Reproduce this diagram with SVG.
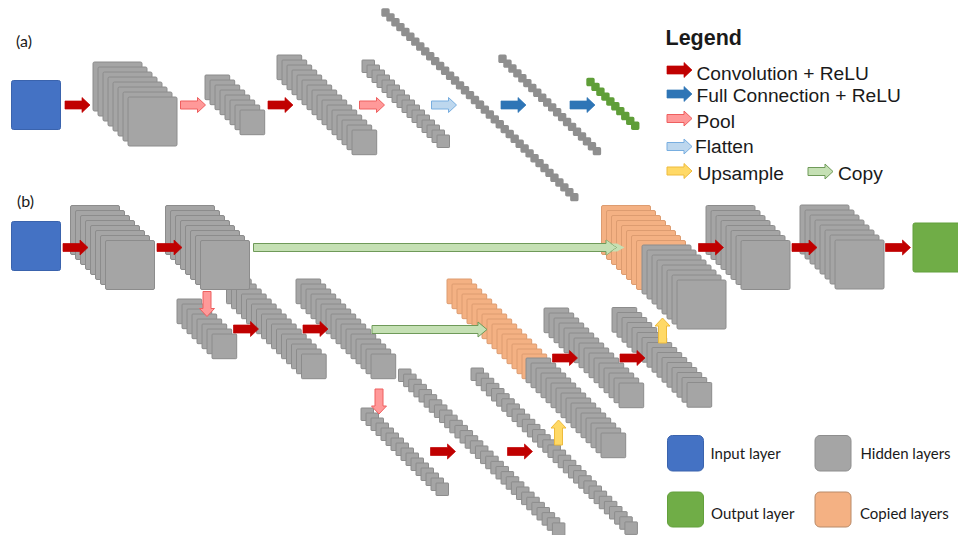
<svg xmlns="http://www.w3.org/2000/svg" width="958" height="535" viewBox="0 0 958 535">
<style>
.gray{fill:#a5a5a5;stroke:#8c8c8c}
.thin{fill:#8f8f8f;stroke:#8f8f8f;stroke-width:2.4}
.orange{fill:#f4b183;stroke:#dd9c70}
.lime{fill:#5f9e38;stroke:#5f9e38;stroke-width:2.4}
.input{fill:#4472c4;stroke:#3a63ad;stroke-width:1}
.output{fill:#70ad47;stroke:#63a03c;stroke-width:1}
.red{fill:#c00000;stroke:#c00000;stroke-width:.7}
.blue{fill:#2e75b6;stroke:#2e75b6;stroke-width:.7}
.pink{fill:#ff9999;stroke:#ee5f5f}
.sky{fill:#bdd7ee;stroke:#78aee0}
.yellow{fill:#ffd966;stroke:#eebb3c}
.copy{fill:#c5e0b4;stroke:#6f9a59}
text{fill:#1a1a1a}
.lg{font-family:"Liberation Sans",Arial,sans-serif;font-size:19.2px}
.cal{font-family:Lato,"Open Sans",sans-serif;font-size:15px}
.tag{font-family:Lato,"Open Sans",sans-serif;font-size:16px}
</style>
<defs>
<rect id="q49" width="49" height="49" rx="1.5"/>
<rect id="q25" width="24.7" height="24.7" rx="1"/>
<rect id="q12" width="12.5" height="12.5" rx=".6"/>
<rect id="q6" width="6" height="6" rx=".5"/>
<path id="arrow" d="M0-4H17V-7.500L25 0 17 7.500V4H0Z"/>
<g id="big8"><use href="#q49"/><use href="#q49" x="5" y="5"/><use href="#q49" x="10" y="10"/><use href="#q49" x="15" y="15"/><use href="#q49" x="20" y="20"/><use href="#q49" x="25" y="25"/><use href="#q49" x="30" y="30"/><use href="#q49" x="35" y="35"/></g>
<g id="mid8"><use href="#q25"/><use href="#q25" x="5" y="5"/><use href="#q25" x="10" y="10"/><use href="#q25" x="15" y="15"/><use href="#q25" x="20" y="20"/><use href="#q25" x="25" y="25"/><use href="#q25" x="30" y="30"/><use href="#q25" x="35" y="35"/></g>
<g id="mid16"><use href="#mid8"/><use href="#mid8" x="40" y="40"/></g>
<g id="sm8"><use href="#q12"/><use href="#q12" x="5" y="5"/><use href="#q12" x="10" y="10"/><use href="#q12" x="15" y="15"/><use href="#q12" x="20" y="20"/><use href="#q12" x="25" y="25"/><use href="#q12" x="30" y="30"/><use href="#q12" x="35" y="35"/></g>
<g id="sm16"><use href="#sm8"/><use href="#sm8" x="40" y="40"/></g>
<g id="sm31"><use href="#q12"/><use href="#q12" x="5.13" y="5.13"/><use href="#q12" x="10.26" y="10.26"/><use href="#q12" x="15.39" y="15.39"/><use href="#q12" x="20.52" y="20.52"/><use href="#q12" x="25.65" y="25.65"/><use href="#q12" x="30.78" y="30.78"/><use href="#q12" x="35.91" y="35.91"/><use href="#q12" x="41.04" y="41.04"/><use href="#q12" x="46.17" y="46.17"/><use href="#q12" x="51.3" y="51.3"/><use href="#q12" x="56.43" y="56.43"/><use href="#q12" x="61.56" y="61.56"/><use href="#q12" x="66.69" y="66.69"/><use href="#q12" x="71.82" y="71.82"/><use href="#q12" x="76.95" y="76.95"/><use href="#q12" x="82.08" y="82.08"/><use href="#q12" x="87.21" y="87.21"/><use href="#q12" x="92.34" y="92.34"/><use href="#q12" x="97.47" y="97.47"/><use href="#q12" x="102.6" y="102.6"/><use href="#q12" x="107.73" y="107.73"/><use href="#q12" x="112.86" y="112.86"/><use href="#q12" x="117.99" y="117.99"/><use href="#q12" x="123.12" y="123.12"/><use href="#q12" x="128.25" y="128.25"/><use href="#q12" x="133.38" y="133.38"/><use href="#q12" x="138.51" y="138.51"/><use href="#q12" x="143.64" y="143.64"/><use href="#q12" x="148.77" y="148.77"/><use href="#q12" x="153.9" y="153.9"/></g>
<g id="t5"><use href="#q6"/><use href="#q6" x="4.97" y="4.86"/><use href="#q6" x="9.94" y="9.72"/><use href="#q6" x="14.91" y="14.58"/><use href="#q6" x="19.88" y="19.44"/></g>
<g id="t10"><use href="#t5"/><use href="#t5" x="24.85" y="24.3"/></g>
<g id="t20"><use href="#t10"/><use href="#t10" x="49.7" y="48.6"/></g>
<g id="t39"><use href="#t20"/><use href="#t20" x="94.4" y="92.3"/></g>
</defs>

<g id="a-input"><rect class="input" x="11.500" y="80.500" width="49" height="49" rx="2"/></g>
<g id="a-conv1" class="gray"><use href="#big8" x="93" y="62"/></g>
<g id="a-pool1" class="gray"><use href="#mid8" x="205" y="75"/></g>
<g id="a-conv2" class="gray"><use href="#mid16" x="277" y="55"/></g>
<g id="a-pool2" class="gray"><use href="#sm16" x="362" y="60"/></g>
<g id="a-flat" class="thin"><use href="#t39" x="382.500" y="9.500"/></g>
<g id="a-fc" class="thin"><use href="#t20" x="499.500" y="55.800"/></g>
<g id="a-output" class="lime"><use href="#t10" x="587.500" y="79"/></g>

<g id="b-input"><rect class="input" x="11.500" y="221.500" width="49" height="49" rx="2"/></g>
<g id="b-conv3" class="gray"><use href="#mid16" x="226.500" y="279"/></g>
<g id="b-conv1" class="gray"><use href="#big8" x="70.500" y="205.500"/></g>
<g id="b-conv2" class="gray"><use href="#big8" x="165.500" y="205.500"/></g>
<g id="b-pool1" class="gray"><use href="#mid8" x="177" y="299"/></g>
<g id="b-conv4" class="gray"><use href="#mid16" x="296" y="279"/></g>
<g id="b-pool2" class="gray"><use href="#sm16" x="361" y="408"/></g>
<g id="b-conv5" class="gray"><use href="#sm31" x="398.500" y="369"/></g>
<g id="b-conv6" class="gray"><use href="#sm31" x="471" y="368"/></g>
<g id="b-copy2" class="orange"><use href="#mid16" x="447" y="279"/></g>
<g id="b-up2" class="gray"><use href="#mid16" x="526" y="358"/></g>
<g id="b-conv7" class="gray"><use href="#mid16" x="544" y="308"/></g>
<g id="b-conv8" class="gray"><use href="#mid16" x="612" y="307.500"/></g>
<g id="b-copy1" class="orange"><use href="#big8" x="601.500" y="205.500"/></g>
<g id="b-up1" class="gray"><use href="#big8" x="642" y="245"/></g>
<g id="b-conv9" class="gray"><use href="#big8" x="706" y="205.500"/></g>
<g id="b-conv10" class="gray"><use href="#big8" x="800" y="205"/></g>
<g id="b-output"><rect class="output" x="913" y="223" width="50" height="49" rx="2"/></g>

<g id="connectors">
<use href="#arrow" class="red" x="65" y="105"/>
<use href="#arrow" class="pink" x="180.500" y="105"/>
<use href="#arrow" class="red" x="268" y="105"/>
<use href="#arrow" class="pink" x="359.500" y="105"/>
<use href="#arrow" class="sky" x="431.500" y="105"/>
<use href="#arrow" class="blue" x="501" y="105"/>
<use href="#arrow" class="blue" x="570" y="105"/>
<use href="#arrow" class="red" x="63" y="247.500"/>
<use href="#arrow" class="red" x="157" y="247.500"/>
<path class="copy" d="M253.500 243.500H606V240L617 247.500 606 255V251.500H253.500Z"/>
<path d="M617 247.500 606 255 608 251.500H617L624.500 247.500 617 243.500H608L606 240Z" fill="#c5e0b4"/>
<use href="#arrow" class="pink" transform="translate(207 291.500) rotate(90)"/>
<use href="#arrow" class="red" x="233.500" y="329"/>
<use href="#arrow" class="red" x="303" y="329"/>
<path class="copy" d="M372 325.500H478V322L487 329.500 478 337V333.500H372Z"/>
<use href="#arrow" class="pink" transform="translate(379 389) rotate(90)"/>
<use href="#arrow" class="red" x="430.500" y="451.500"/>
<use href="#arrow" class="red" x="507.500" y="451.500"/>
<use href="#arrow" class="yellow" transform="translate(558.500 445) rotate(-90)"/>
<use href="#arrow" class="red" x="552.500" y="358"/>
<use href="#arrow" class="red" x="620" y="358"/>
<use href="#arrow" class="yellow" transform="translate(662.500 343) rotate(-90)"/>
<use href="#arrow" class="red" x="698.500" y="247.500"/>
<use href="#arrow" class="red" x="792" y="247.500"/>
<use href="#arrow" class="red" x="885.500" y="247.500"/>
</g>

<g id="labels">
<text class="tag" x="16" y="47">(a)</text>
<text class="tag" x="17" y="207">(b)</text>
</g>

<g id="legend">
<text x="665.500" y="44.500" font-family="Liberation Sans,Arial,sans-serif" font-weight="700" font-size="21.500" fill="#000">Legend</text>
<use href="#arrow" class="red" x="667" y="70"/>
<text class="lg" x="696.500" y="79.500">Convolution + ReLU</text>
<use href="#arrow" class="blue" x="667" y="94"/>
<text class="lg" x="696.500" y="102">Full Connection + ReLU</text>
<use href="#arrow" class="pink" x="667" y="118.500"/>
<text class="lg" x="696.500" y="127.500">Pool</text>
<use href="#arrow" class="sky" x="667" y="146.500"/>
<text class="lg" x="695" y="152.500">Flatten</text>
<use href="#arrow" class="yellow" x="667" y="171"/>
<text class="lg" x="697.500" y="180">Upsample</text>
<use href="#arrow" class="copy" x="808" y="171.500"/>
<text class="lg" x="838" y="180">Copy</text>
<rect class="input" x="667.500" y="435.500" width="36" height="35.500" rx="5"/>
<text class="cal" x="710.500" y="459">Input layer</text>
<rect x="815" y="435.500" width="36" height="35.500" rx="5" fill="#a5a5a5" stroke="#8e8e8e"/>
<text class="cal" x="860.500" y="459">Hidden layers</text>
<rect class="output" x="667.500" y="492" width="36" height="35" rx="5"/>
<text class="cal" x="711" y="519">Output layer</text>
<rect x="815" y="492" width="36" height="35" rx="5" fill="#f4b183" stroke="#b98a68"/>
<text class="cal" x="860" y="519">Copied layers</text>
</g>
</svg>
